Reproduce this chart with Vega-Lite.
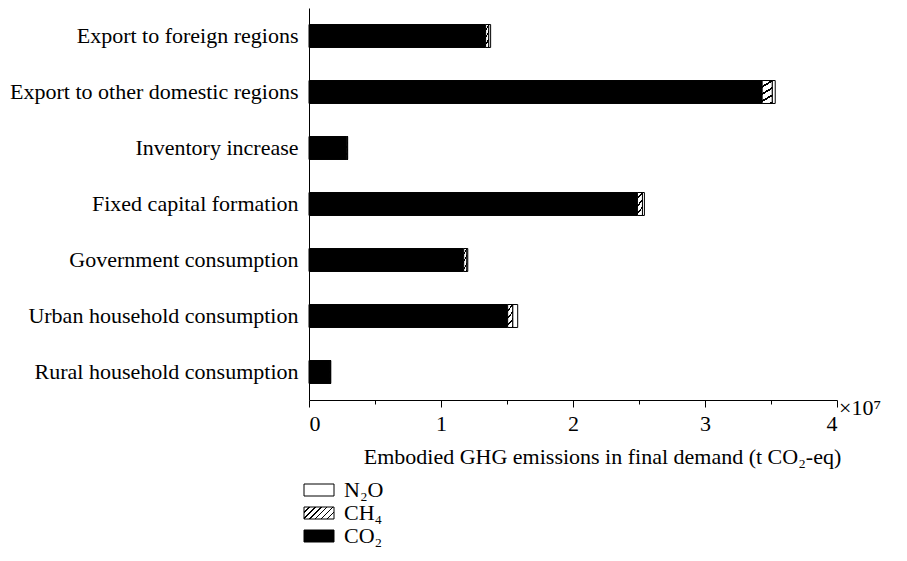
{
  "$schema": "https://vega.github.io/schema/vega-lite/v6.json",
  "autosize": {"type": "none"},
  "padding": {"left": 309, "top": 8, "right": 70, "bottom": 161},
  "width": 528,
  "height": 392,
  "config": {
    "view": {"stroke": null},
    "font": "Liberation Serif",
    "axis": {"labelFont": "Liberation Serif", "titleFont": "Liberation Serif", "labelColor": "#000", "titleColor": "#000", "domainColor": "#000", "tickColor": "#000"},
    "legend": {"labelFont": "Liberation Serif", "labelColor": "#000"}
  },
  "data": {
    "values": [
      {"demand": "Export  to foreign regions", "gas": "CO₂", "emissions": 13380000},
      {"demand": "Export  to foreign regions", "gas": "CH₄", "emissions": 230000},
      {"demand": "Export  to foreign regions", "gas": "N₂O", "emissions": 150000},
      {"demand": "Export to other domestic regions", "gas": "CO₂", "emissions": 34330000},
      {"demand": "Export to other domestic regions", "gas": "CH₄", "emissions": 760000},
      {"demand": "Export to other domestic regions", "gas": "N₂O", "emissions": 230000},
      {"demand": "Inventory increase", "gas": "CO₂", "emissions": 2870000},
      {"demand": "Inventory increase", "gas": "CH₄", "emissions": 40000},
      {"demand": "Inventory increase", "gas": "N₂O", "emissions": 20000},
      {"demand": "Fixed capital formation", "gas": "CO₂", "emissions": 24880000},
      {"demand": "Fixed capital formation", "gas": "CH₄", "emissions": 380000},
      {"demand": "Fixed capital formation", "gas": "N₂O", "emissions": 150000},
      {"demand": "Government consumption", "gas": "CO₂", "emissions": 11720000},
      {"demand": "Government consumption", "gas": "CH₄", "emissions": 230000},
      {"demand": "Government consumption", "gas": "N₂O", "emissions": 80000},
      {"demand": "Urban household consumption", "gas": "CO₂", "emissions": 15050000},
      {"demand": "Urban household consumption", "gas": "CH₄", "emissions": 380000},
      {"demand": "Urban household consumption", "gas": "N₂O", "emissions": 380000},
      {"demand": "Rural household consumption", "gas": "CO₂", "emissions": 1590000},
      {"demand": "Rural household consumption", "gas": "CH₄", "emissions": 40000},
      {"demand": "Rural household consumption", "gas": "N₂O", "emissions": 20000}
    ]
  },
  "transform": [
    {"calculate": "indexof(['CO₂', 'CH₄', 'N₂O'], datum.gas)", "as": "gasOrder"},
    {"stack": "emissions", "groupby": ["demand"], "sort": [{"field": "gasOrder", "order": "ascending"}], "as": ["start", "end"]}
  ],
  "layer": [
    {
      "mark": {"type": "bar", "stroke": "#000", "strokeWidth": 1},
      "encoding": {
        "y": {
          "field": "demand",
          "type": "nominal",
          "sort": null,
          "scale": {"paddingInner": 0.59, "paddingOuter": 0.295},
          "axis": {"title": null, "ticks": false, "labelPadding": 11, "labelFontSize": 22, "labelLimit": 400, "domainWidth": 1}
        },
        "x": {
          "field": "start",
          "type": "quantitative",
          "scale": {"domain": [0, 40000000], "nice": false},
          "axis": {
            "title": "Embodied GHG emissions in final demand (t CO₂-eq)",
            "titleFontSize": 22,
            "titleFontWeight": "normal",
            "titlePadding": 12,
            "titleX": 293,
            "values": [0, 5000000, 10000000, 15000000, 20000000, 25000000, 30000000, 35000000, 40000000],
            "labelExpr": "datum.value % 10000000 === 0 ? format(datum.value / 10000000, 'd') : ''",
            "labelFontSize": 22,
            "labelPadding": 6,
            "tickSize": {"condition": {"test": "datum.value % 10000000 === 0", "value": 7}, "value": 4},
            "grid": false
          }
        },
        "x2": {"field": "end"},
        "fill": {
          "field": "gas",
          "type": "nominal",
          "scale": {
            "domain": ["N₂O", "CH₄", "CO₂"],
            "range": [
              "#ffffff",
              {"expr": "{gradient: 'linear', x1: 0, y1: 0, x2: 1.207, y2: 0.483, stops: [{offset: 0, color: '#fff'}, {offset: 0.1, color: '#fff'}, {offset: 0.1, color: '#000'}, {offset: 0.143, color: '#000'}, {offset: 0.143, color: '#fff'}, {offset: 0.243, color: '#fff'}, {offset: 0.243, color: '#000'}, {offset: 0.286, color: '#000'}, {offset: 0.286, color: '#fff'}, {offset: 0.386, color: '#fff'}, {offset: 0.386, color: '#000'}, {offset: 0.429, color: '#000'}, {offset: 0.429, color: '#fff'}, {offset: 0.529, color: '#fff'}, {offset: 0.529, color: '#000'}, {offset: 0.571, color: '#000'}, {offset: 0.571, color: '#fff'}, {offset: 0.671, color: '#fff'}, {offset: 0.671, color: '#000'}, {offset: 0.714, color: '#000'}, {offset: 0.714, color: '#fff'}, {offset: 0.814, color: '#fff'}, {offset: 0.814, color: '#000'}, {offset: 0.857, color: '#000'}, {offset: 0.857, color: '#fff'}, {offset: 1, color: '#fff'}]}"},
              "#000000"
            ]
          },
          "legend": {
            "title": null,
            "orient": "none",
            "legendX": -1,
            "legendY": 471,
            "direction": "vertical",
            "labelFontSize": 22,
            "labelOffset": 14,
            "rowPadding": 1,
            "symbolType": "M-2,-0.8H2V0.8H-2Z",
            "symbolSize": 225,
            "symbolStrokeColor": "#000",
            "symbolStrokeWidth": 1
          }
        }
      }
    },
    {
      "transform": [{"filter": "datum.gas === 'CH₄'"}],
      "mark": {
        "type": "bar",
        "stroke": "#000",
        "strokeWidth": 1,
        "fill": {
          "gradient": "linear", "x1": 0, "y1": 0, "x2": 0.307, "y2": 1.18,
          "stops": [
            {"offset": 0, "color": "#fff"}, {"offset": 0.18, "color": "#fff"}, {"offset": 0.18, "color": "#000"}, {"offset": 0.25, "color": "#000"},
            {"offset": 0.25, "color": "#fff"}, {"offset": 0.43, "color": "#fff"}, {"offset": 0.43, "color": "#000"}, {"offset": 0.5, "color": "#000"},
            {"offset": 0.5, "color": "#fff"}, {"offset": 0.68, "color": "#fff"}, {"offset": 0.68, "color": "#000"}, {"offset": 0.75, "color": "#000"},
            {"offset": 0.75, "color": "#fff"}, {"offset": 0.93, "color": "#fff"}, {"offset": 0.93, "color": "#000"}, {"offset": 1, "color": "#000"}
          ]
        }
      },
      "encoding": {
        "y": {"field": "demand", "type": "nominal", "sort": null},
        "x": {"field": "start", "type": "quantitative"},
        "x2": {"field": "end"}
      }
    },
    {
      "data": {"values": [{"exponent": 40000000}]},
      "mark": {"type": "text", "text": "×10⁷", "fontSize": 22, "font": "Liberation Serif", "align": "left", "baseline": "middle", "dx": 2, "dy": 8, "color": "#000"},
      "encoding": {
        "x": {"field": "exponent", "type": "quantitative"},
        "y": {"value": "height"}
      }
    }
  ]
}
